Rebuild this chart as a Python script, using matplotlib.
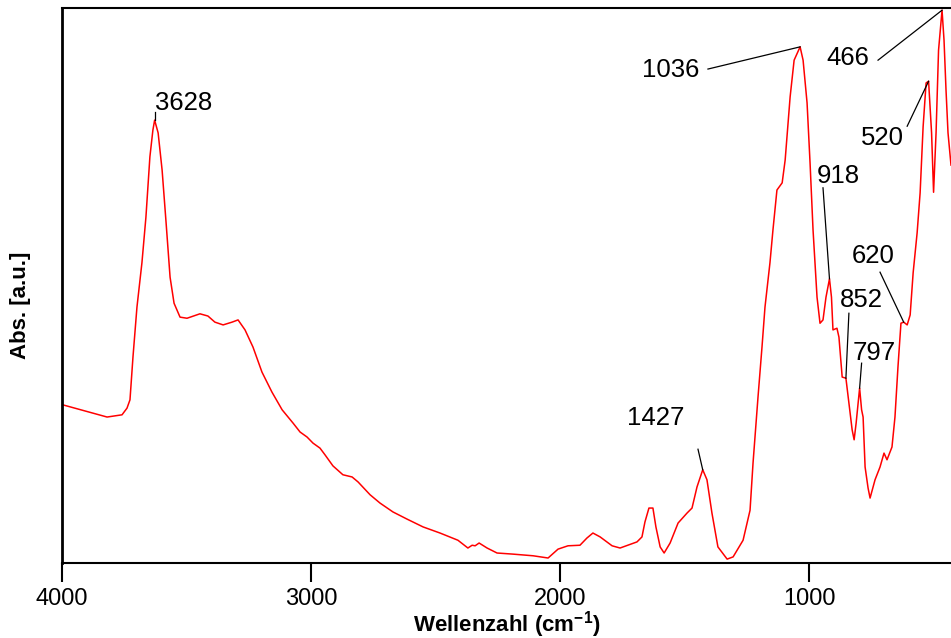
import numpy as np
import matplotlib
matplotlib.use("Agg")
import matplotlib.pyplot as plt

plt.rcParams['font.family'] = ['Liberation Sans', 'DejaVu Sans']
plt.rcParams['mathtext.fontset'] = 'custom'
plt.rcParams['mathtext.rm'] = 'Liberation Sans'
plt.rcParams['mathtext.bf'] = 'Liberation Sans:bold'

# IR-Spektrum
wellenzahl = [3997, 3876, 3819, 3759, 3739, 3727, 3715, 3699, 3679, 3663,
              3647, 3635, 3628, 3614, 3598, 3582, 3566, 3550, 3526, 3498,
              3446, 3414, 3386, 3353, 3317, 3293, 3265, 3233, 3197, 3157,
              3116, 3072, 3044, 3016, 2992, 2964, 2944, 2912, 2872, 2835,
              2811, 2763, 2723, 2671, 2614, 2550, 2482, 2410, 2370, 2353,
              2341, 2325, 2293, 2253, 2189, 2108, 2048, 2008, 1968, 1920,
              1892, 1868, 1839, 1791, 1759, 1691, 1671, 1659, 1643, 1627,
              1615, 1598, 1582, 1558, 1526, 1490, 1470, 1450, 1427, 1410,
              1390, 1366, 1329, 1305, 1265, 1237, 1225, 1205, 1189, 1177,
              1157, 1145, 1129, 1108, 1096, 1076, 1060, 1036, 1024, 1008,
              996, 984, 968, 956, 944, 932, 918, 910, 904, 888,
              880, 867, 852, 843, 827, 819, 811, 797, 789, 783,
              775, 763, 755, 735, 715, 699, 687, 667, 655, 643,
              631, 620, 606, 594, 582, 566, 554, 542, 530, 520,
              508, 500, 490, 480, 466, 458, 450, 442, 430]
absorbanz = [0.285, 0.270, 0.263, 0.267, 0.279, 0.294, 0.371, 0.461, 0.541, 0.623,
             0.732, 0.780, 0.798, 0.775, 0.708, 0.613, 0.515, 0.468, 0.443, 0.441,
             0.449, 0.445, 0.434, 0.429, 0.434, 0.438, 0.420, 0.389, 0.344, 0.308,
             0.276, 0.252, 0.236, 0.227, 0.216, 0.207, 0.195, 0.175, 0.159, 0.155,
             0.146, 0.123, 0.108, 0.092, 0.079, 0.065, 0.054, 0.041, 0.027, 0.032,
             0.031, 0.036, 0.027, 0.018, 0.016, 0.013, 0.009, 0.025, 0.031, 0.032,
             0.045, 0.054, 0.047, 0.031, 0.027, 0.038, 0.047, 0.074, 0.099, 0.099,
             0.065, 0.029, 0.018, 0.036, 0.072, 0.090, 0.099, 0.137, 0.168, 0.150,
             0.090, 0.029, 0.007, 0.011, 0.041, 0.095, 0.180, 0.299, 0.389, 0.461,
             0.541, 0.600, 0.672, 0.685, 0.726, 0.840, 0.906, 0.930, 0.906, 0.829,
             0.721, 0.600, 0.479, 0.432, 0.438, 0.479, 0.512, 0.479, 0.420, 0.423,
             0.407, 0.335, 0.333, 0.299, 0.240, 0.222, 0.252, 0.315, 0.276, 0.263,
             0.173, 0.135, 0.117, 0.150, 0.173, 0.198, 0.186, 0.209, 0.263, 0.353,
             0.432, 0.434, 0.429, 0.447, 0.523, 0.595, 0.667, 0.786, 0.865, 0.868,
             0.775, 0.668, 0.775, 0.924, 0.996, 0.942, 0.852, 0.775, 0.717]

# Peakbeschriftungen
peaks = [3628, 1427, 1036, 918, 852, 797, 620, 520, 466]
text_pos = [(3510, 0.827), (1614, 0.261), (1554, 0.888), (884, 0.697), (791, 0.474),
            (739, 0.378), (743, 0.553), (707, 0.766), (843, 0.910)]
line_start = [(3628, 0.812), (1446, 0.205), (1406, 0.890), (944, 0.676), (840, 0.450),
              (789, 0.360), (715, 0.524), (606, 0.787), (723, 0.906)]

w = np.array(wellenzahl)
a = np.array(absorbanz)

fig = plt.figure(figsize=(9.51, 6.38), dpi=100)
ax = fig.add_axes([62/951, 1-563/638, 1-62/951, (563-8)/638])
ax.plot(w, a, color='red', lw=1.1)

for p, tp, ls in zip(peaks, text_pos, line_start):
    yp = np.interp(p, w[::-1], a[::-1])
    ax.plot([ls[0], p], [ls[1], yp], color='black', lw=0.9)
    if p == 3628:
        ax.text(p, 0.808, str(p), ha='left', va='bottom', fontsize=18.5)
    else:
        ax.text(tp[0], tp[1], str(p), ha='center', va='center', fontsize=18.5)

ax.set_xlim(4000, 430)
ax.set_ylim(0, 1.0)
ax.set_xticks([4000, 3000, 2000, 1000])
ax.set_yticks([])
ax.tick_params(axis='x', direction='out', length=14, width=1.5, labelsize=17, pad=4)
ax.spines['right'].set_visible(False)
ax.spines['left'].set_linewidth(2)
ax.spines['bottom'].set_linewidth(1.5)
ax.spines['top'].set_linewidth(1.5)

ax.set_xlabel(r'Wellenzahl (cm$^{\mathbf{-1}}$)', fontsize=16, fontweight='bold', labelpad=-1)
ax.set_ylabel('Abs. [a.u.]', fontsize=16, fontweight='bold')
ax.yaxis.set_label_coords(-0.035, 0.465)

fig.savefig('out.png', dpi=100)
